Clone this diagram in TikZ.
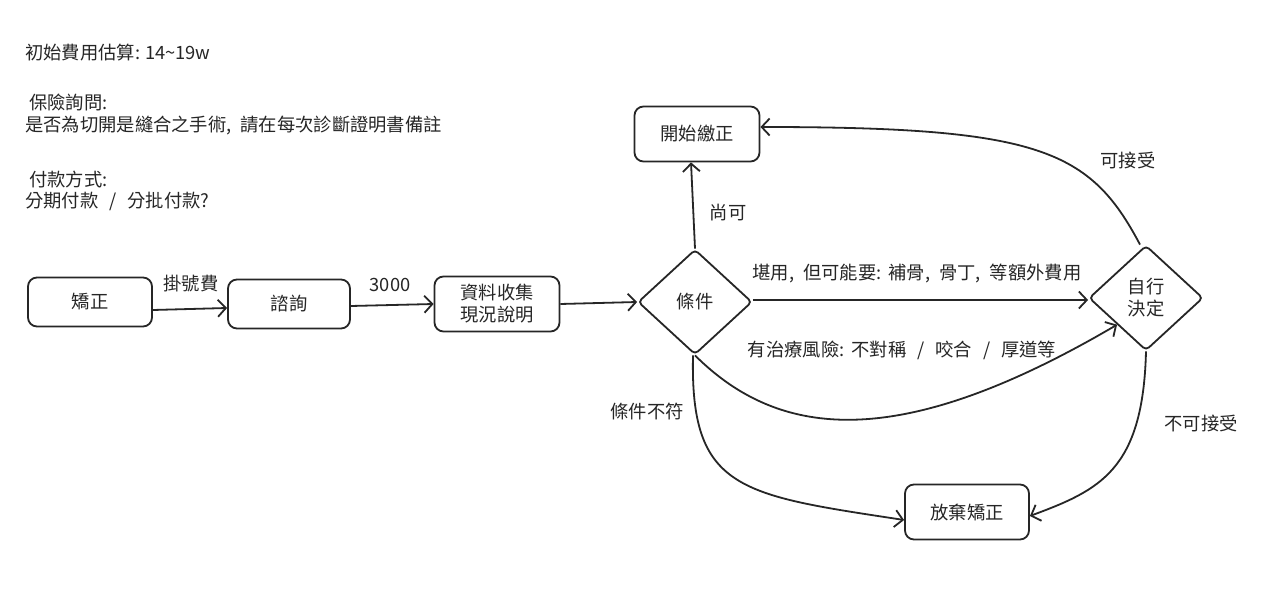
\documentclass[tikz,border=0pt]{standalone}
\usepackage{fontspec}
\setmainfont{Noto Sans CJK TC}
\usetikzlibrary{arrows.meta,shapes.geometric}
\newcommand{\mycs}{,\hspace{9pt}}
\newcommand{\mysl}{\hspace{11pt}/\hspace{11pt}}
\begin{document}
\begin{tikzpicture}[x=1pt,y=-1pt,
 every node/.style={font=\fontsize{18.3}{22}\selectfont, text=black!85},
 box/.style={draw=black!85, line width=1.8pt, rounded corners=9pt, minimum width=124pt, minimum height=50pt, align=center, inner sep=2pt},
 dia/.style={draw=black!85, diamond, line width=1.8pt, minimum width=114pt, minimum height=105pt, inner sep=0pt, align=center, rounded corners=4pt},
 arr/.style={draw=black!85, line width=1.8pt, -{Straight Barb[length=8pt,width=17pt]}},
 lbl/.style={inner sep=1pt},
 note/.style={anchor=west, inner sep=0pt, align=left}]
\useasboundingbox (0,0) rectangle (1279,593);
\fill[white] (0,0) rectangle (1279,593);

% notes
\node[note] (n1) at (25,53) {初始費用估算:\hspace{5pt}14\textasciitilde 19w};
\node[note] (n2) at (29,103) {保險詢問:};
\node[note] (n3) at (25,125) {是否為切開是縫合之手術\mycs 請在每次診斷證明書備註};
\node[note] (n4) at (29,180) {付款方式:};
\node[note] (n5) at (25,201) {分期付款\mysl 分批付款?};

% nodes
\node[box, minimum height=49pt] (jz) at (90,302) {矯正};
\node[box, minimum width=122pt, minimum height=49pt] (zx) at (289,304) {諮詢};
\node[box, minimum width=125pt, minimum height=55pt] (zl) at (497,304) {資料收集\\現況說明};
\node[dia] (cond) at (695,302) {條件};
\node[dia] (dec) at (1146,298) {自行\\決定};
\node[box, minimum width=125pt, minimum height=55pt] (start) at (697,134) {開始繳正};
\node[box, minimum width=124pt, minimum height=55pt] (ab) at (967,512) {放棄矯正};

% connectors
\draw[arr] ([yshift=-8pt]jz.east) -- ([yshift=-4pt]zx.west);
\node[lbl] (l1) at (191,284) {掛號費};
\draw[arr] ([yshift=-2pt]zx.east) -- (zl.west);
\node[lbl] (l2) at (390,285) {3000};
\draw[arr] (zl.east) -- (cond.west);
\draw[arr] ([yshift=2pt]cond.east) -- ([yshift=-2pt]dec.west);
\node[lbl] (l3) at (917,273) {堪用\mycs 但可能要:\hspace{7pt}補骨\mycs 骨丁\mycs 等額外費用};
\draw[arr] (cond.north) -- ([xshift=-6pt]start.south);
\node[lbl] (l4) at (728,213) {尚可};
\draw[arr] ([xshift=-6pt]dec.north) .. controls (1090,150) and (1040,127) .. ([yshift=7pt]start.east);
\node[lbl] (l5) at (1128,160) {可接受};
\draw[arr] (cond.south) .. controls (780,440) and (900,452) .. (dec.south west);
\node[lbl] (l6) at (902,350) {有治療風險:\hspace{7pt}不對稱\mysl 咬合\mysl 厚道等};
\draw[arr] ([xshift=-2pt]cond.south) .. controls (690,490) and (740,495) .. ([yshift=-8pt]ab.west);
\node[lbl] (l7) at (647,411) {條件不符};
\draw[arr] (dec.south) .. controls (1143,470) and (1100,490) .. ([yshift=-4pt]ab.east);
\node[lbl] (l8) at (1201,423) {不可接受};
\end{tikzpicture}
\end{document}
